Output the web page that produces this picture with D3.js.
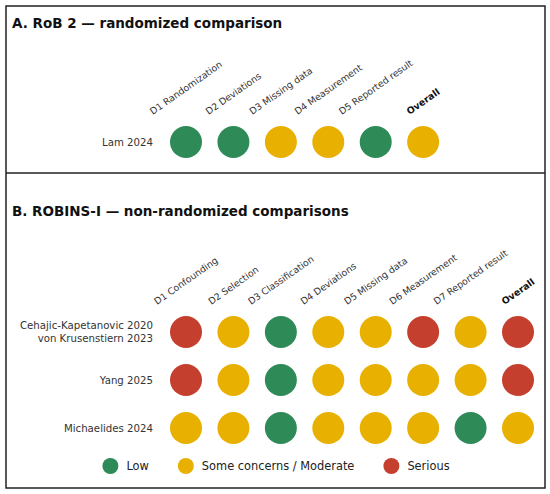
<!DOCTYPE html>
<html>
<head>
<meta charset="utf-8">
<script src="https://cdn.jsdelivr.net/npm/d3@7"></script>
<style>
  body { margin: 0; background: #fff; }
  text { font-family: "DejaVu Sans", sans-serif; }
</style>
</head>
<body>
<div id="chart"></div>
<script>
// risk of bias judgements
const levels = ["Low", "Some concerns / Moderate", "Serious"];
const levelColors = ["#2e8b57", "#e8b000", "#c53f2f"];

const domainsA = ["D1 Randomization", "D2 Deviations", "D3 Missing data",
  "D4 Measurement", "D5 Reported result", "Overall"];
const studiesA = ["Lam 2024"];
const judgementsA = [
  ["Low", "Low", "Some concerns / Moderate", "Some concerns / Moderate", "Low", "Some concerns / Moderate"]
];

const domainsB = ["D1 Confounding", "D2 Selection", "D3 Classification", "D4 Deviations",
  "D5 Missing data", "D6 Measurement", "D7 Reported result", "Overall"];
const studiesB = ["Cehajic-Kapetanovic 2020\nvon Krusenstiern 2023", "Yang 2025", "Michaelides 2024"];
const judgementsB = [
  ["Serious", "Some concerns / Moderate", "Low", "Some concerns / Moderate", "Some concerns / Moderate", "Serious", "Some concerns / Moderate", "Serious"],
  ["Serious", "Some concerns / Moderate", "Low", "Some concerns / Moderate", "Some concerns / Moderate", "Some concerns / Moderate", "Some concerns / Moderate", "Serious"],
  ["Some concerns / Moderate", "Some concerns / Moderate", "Low", "Some concerns / Moderate", "Some concerns / Moderate", "Some concerns / Moderate", "Low", "Some concerns / Moderate"]
];

const W = 550, H = 494;
const r = 16;
const angle = 35;

const svg = d3.select("#chart").append("svg")
  .attr("width", W)
  .attr("height", H);

const color = d3.scaleOrdinal(levels, levelColors);

// shared column positions for both panels
const x = d3.scaleLinear().domain([0, 7]).range([186, 518]);

// frame + divider
svg.append("rect")
  .attr("x", 6).attr("y", 6)
  .attr("width", 539).attr("height", 482)
  .attr("fill", "none")
  .attr("stroke", "#222")
  .attr("stroke-width", 1.5);
svg.append("line")
  .attr("x1", 6).attr("x2", 545)
  .attr("y1", 173).attr("y2", 173)
  .attr("stroke", "#222")
  .attr("stroke-width", 1.5);

function panel(title, titleY, domains, studies, judgements, yRange) {
  const g = svg.append("g");

  g.append("text")
    .attr("x", 12).attr("y", titleY)
    .attr("font-size", 13.5)
    .attr("font-weight", "bold")
    .attr("fill", "#111")
    .text(title);

  const y = d3.scalePoint().domain(studies).range(yRange);
  const labelBottom = yRange[0] - r - 10;
  const rad = angle * Math.PI / 180;

  // rotated column headers, centred over each column like matplotlib ha=center
  g.selectAll(".col")
    .data(domains)
    .join("text")
    .attr("class", "col")
    .attr("font-size", d => d === "Overall" ? 9.4 : 9.3)
    .attr("font-weight", d => d === "Overall" ? "bold" : "normal")
    .attr("fill", d => d === "Overall" ? "#111" : "#333")
    .attr("text-anchor", "middle")
    .attr("dy", "0.35em")
    .text(d => d)
    .each(function(d, i) {
      const L = this.getComputedTextLength();
      const h = 9;
      const bh = L * Math.sin(rad) + h * Math.cos(rad);
      d3.select(this).attr("transform",
        `translate(${x(i)},${labelBottom - bh / 2}) rotate(${-angle})`);
    });

  // row labels (may wrap onto two lines)
  g.selectAll(".row")
    .data(studies)
    .join("text")
    .attr("class", "row")
    .attr("font-size", 10.2)
    .attr("fill", "#333")
    .attr("text-anchor", "end")
    .each(function(d) {
      const lines = d.split("\n");
      const t = d3.select(this);
      lines.forEach((ln, k) => {
        t.append("tspan")
          .attr("x", 153)
          .attr("y", y(d) + (k - (lines.length - 1) / 2) * 12.5)
          .attr("dy", "0.35em")
          .text(ln);
      });
    });

  const cells = [];
  studies.forEach((s, i) => judgements[i].forEach((j, k) => cells.push({s, k, j})));

  g.selectAll("circle")
    .data(cells)
    .join("circle")
    .attr("cx", d => x(d.k))
    .attr("cy", d => y(d.s))
    .attr("r", r)
    .attr("fill", d => color(d.j));
}

panel("A. RoB 2 \u2014 randomized comparison", 27.7, domainsA, studiesA, judgementsA, [142, 142]);
panel("B. ROBINS-I \u2014 non-randomized comparisons", 215.7, domainsB, studiesB, judgementsB, [332, 428]);

// legend
const leg = svg.append("g");
const legY = 466;
const items = leg.selectAll("g")
  .data(levels)
  .join("g");
items.append("circle")
  .attr("r", 8)
  .attr("fill", d => color(d));
items.append("text")
  .attr("x", 16)
  .attr("dy", "0.35em")
  .attr("font-size", 11.4)
  .attr("fill", "#222")
  .text(d => d);

let pos = 0;
items.each(function() {
  const w = d3.select(this).select("text").node().getComputedTextLength();
  d3.select(this).attr("data-x", pos);
  pos += 16 + w + 37;
});
const total = pos - 37 + 8;
const start = 276 - total / 2 + 8;
items.attr("transform", function() {
  return `translate(${start + (+this.getAttribute("data-x"))},${legY})`;
});
</script>
</body>
</html>
